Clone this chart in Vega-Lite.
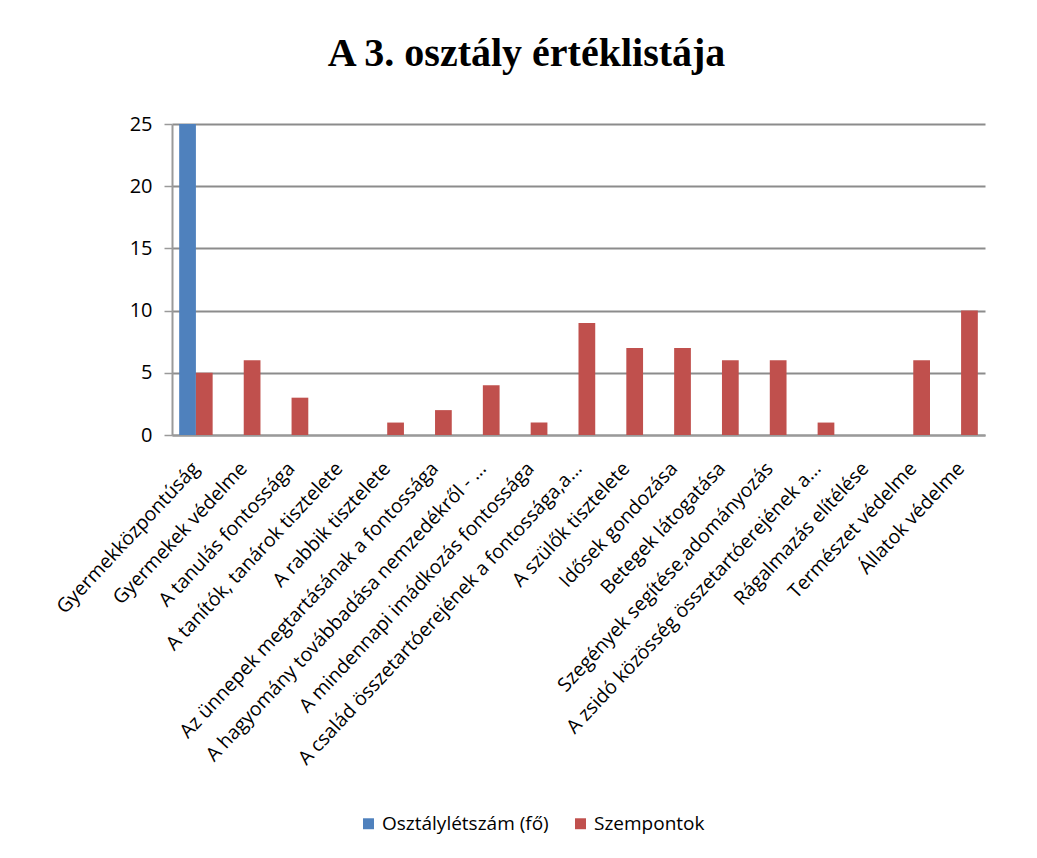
{
  "$schema": "https://vega.github.io/schema/vega-lite/v6.json",
  "width": 813,
  "height": 311,
  "autosize": {"type": "none"},
  "padding": {"left": 172, "top": 124, "right": 52, "bottom": 423},
  "background": "white",
  "title": {
    "text": "A 3. osztály értéklistája",
    "font": "Liberation Serif",
    "fontSize": 40,
    "fontWeight": "bold",
    "color": "#000000",
    "anchor": "middle",
    "offset": 40,
    "dx": -52
  },
  "data": {
    "values": [
      {"kategoria": "Gyermekközpontúság", "sorozat": "Osztálylétszám (fő)", "ertek": 25},
      {"kategoria": "Gyermekközpontúság", "sorozat": "Szempontok", "ertek": 5},
      {"kategoria": "Gyermekek védelme", "sorozat": "Szempontok", "ertek": 6},
      {"kategoria": "A tanulás fontossága", "sorozat": "Szempontok", "ertek": 3},
      {"kategoria": "A tanítók, tanárok tisztelete", "sorozat": "Szempontok", "ertek": 0},
      {"kategoria": "A rabbik tisztelete", "sorozat": "Szempontok", "ertek": 1},
      {"kategoria": "Az ünnepek megtartásának a fontossága", "sorozat": "Szempontok", "ertek": 2},
      {"kategoria": "A hagyomány továbbadása nemzedékről - ...", "sorozat": "Szempontok", "ertek": 4},
      {"kategoria": "A mindennapi imádkozás fontossága", "sorozat": "Szempontok", "ertek": 1},
      {"kategoria": "A család összetartóerejének  a fontossága,a...", "sorozat": "Szempontok", "ertek": 9},
      {"kategoria": "A szülők tisztelete", "sorozat": "Szempontok", "ertek": 7},
      {"kategoria": "Idősek gondozása", "sorozat": "Szempontok", "ertek": 7},
      {"kategoria": "Betegek látogatása", "sorozat": "Szempontok", "ertek": 6},
      {"kategoria": "Szegények segítése,adományozás", "sorozat": "Szempontok", "ertek": 6},
      {"kategoria": "A zsidó közösség összetartóerejének  a...", "sorozat": "Szempontok", "ertek": 1},
      {"kategoria": "Rágalmazás elítélése", "sorozat": "Szempontok", "ertek": 0},
      {"kategoria": "Természet védelme", "sorozat": "Szempontok", "ertek": 6},
      {"kategoria": "Állatok védelme", "sorozat": "Szempontok", "ertek": 10}
    ]
  },
  "mark": {"type": "bar", "strokeWidth": 0},
  "encoding": {
    "x": {
      "field": "kategoria",
      "type": "nominal",
      "sort": null,
      "scale": {"paddingInner": 0.3, "paddingOuter": 0.15},
      "axis": {
        "title": null,
        "labelAngle": -47,
        "labelFont": "Open Sans",
        "labelFontSize": 19.5,
        "labelColor": "#000000",
        "labelLimit": 0,
        "labelPadding": 30,
        "ticks": false,
        "domainColor": "#9a9a9a",
        "domainWidth": 2,
        "grid": false
      }
    },
    "xOffset": {
      "field": "sorozat",
      "type": "nominal",
      "scale": {"domain": ["Osztálylétszám (fő)", "Szempontok"], "paddingInner": 0}
    },
    "y": {
      "field": "ertek",
      "type": "quantitative",
      "scale": {"domain": [0, 25], "nice": false},
      "axis": {
        "title": null,
        "values": [0, 5, 10, 15, 20, 25],
        "labelFont": "Open Sans",
        "labelFontSize": 20,
        "labelColor": "#000000",
        "labelPadding": 12,
        "tickColor": "#9a9a9a",
        "tickSize": 8,
        "tickWidth": 1.5,
        "domainColor": "#9a9a9a",
        "domainWidth": 2,
        "grid": true,
        "gridColor": "#8c8c8c",
        "gridWidth": 2
      }
    },
    "color": {
      "field": "sorozat",
      "type": "nominal",
      "scale": {"domain": ["Osztálylétszám (fő)", "Szempontok"], "range": ["#4F81BD", "#C0504D"]},
      "legend": {
        "title": null,
        "orient": "none",
        "direction": "horizontal",
        "legendX": 187,
        "legendY": 690,
        "symbolType": "square",
        "symbolSize": 120,
        "symbolStrokeWidth": 0,
        "labelFont": "Open Sans",
        "labelFontSize": 19,
        "labelColor": "#000000",
        "labelLimit": 0,
        "columnPadding": 22,
        "labelOffset": 4
      }
    }
  },
  "config": {
    "view": {"stroke": null}
  }
}
